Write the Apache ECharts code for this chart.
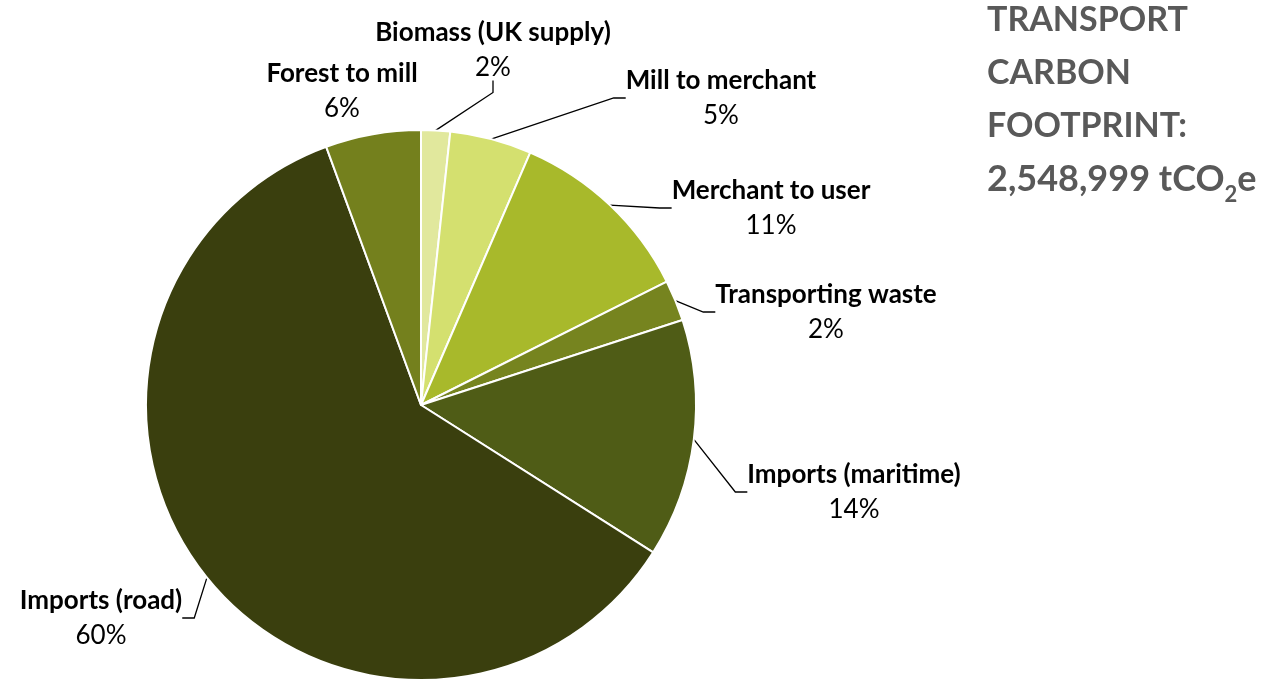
<!DOCTYPE html>
<html>
<head>
<meta charset="utf-8">
<script src="https://cdn.jsdelivr.net/npm/echarts@6/dist/echarts.min.js"></script>
<style>
  html, body { margin: 0; padding: 0; background: #fff; }
  #chart { width: 1283px; height: 680px; }
</style>
</head>
<body>
<div id="chart"></div>
<script>
// Transport emission sources, clockwise from 12 o'clock
const categories = [
  'Biomass (UK supply)',
  'Mill to merchant',
  'Merchant to user',
  'Transporting waste',
  'Imports (maritime)',
  'Imports (road)',
  'Forest to mill'
];
// Share of the transport footprint, percent
const shares = [1.7, 4.8, 11.1, 2.4, 14.0, 60.4, 5.6];
const sliceColors = ['#e1e89d', '#d4e06f', '#a8b92b', '#76841f', '#4f5c16', '#3a3f0e', '#74801d'];
// Label block centres (x, y) around the pie
const labelSpots = [
  [493, 50], [721, 98], [771, 208], [826, 312], [854, 492], [101, 618], [342, 91]
];
// Slices whose label sits close enough to need no leader line
const noLeader = ['Forest to mill'];
const totalText = '2,548,999';

const chart = echarts.init(document.getElementById('chart'), null, { renderer: 'canvas' });

const FONT = 'Lato, "Open Sans", sans-serif';

chart.setOption({
  animation: false,
  backgroundColor: '#ffffff',
  graphic: [{
    type: 'text',
    left: 987,
    top: 3,
    style: {
      text: '{t|TRANSPORT}\n{t|CARBON}\n{t|FOOTPRINT:}\n{u|' + totalText + ' tCO}{s|2}{u|e}',
      rich: {
        t: { fontFamily: FONT, fontWeight: 'bold', fontSize: 34, lineHeight: 53, fill: '#595959' },
        u: { fontFamily: FONT, fontWeight: 'bold', fontSize: 36, lineHeight: 53, fill: '#595959' },
        s: { fontFamily: FONT, fontWeight: 'bold', fontSize: 22, lineHeight: 53, fill: '#595959', verticalAlign: 'bottom' }
      }
    }
  }],
  series: [{
    type: 'pie',
    center: [421, 405],
    radius: 275,
    startAngle: 90,
    clockwise: true,
    percentPrecision: 0,
    avoidLabelOverlap: false,
    itemStyle: { borderColor: '#ffffff', borderWidth: 2 },
    label: {
      show: true,
      position: 'outside',
      formatter: '{n|{b}}\n{p|{d}%}',
      rich: {
        n: { fontFamily: FONT, fontWeight: 'bold', fontSize: 26, lineHeight: 35, color: '#000', align: 'center' },
        p: { fontFamily: FONT, fontSize: 26, lineHeight: 35, color: '#000', align: 'center' }
      }
    },
    labelLine: { show: true, length: 20, length2: 12, lineStyle: { color: '#000', width: 1.3 } },
    labelLayout: function (params) {
      const s = labelSpots[params.dataIndex];
      return { x: s[0], y: s[1], align: 'center', verticalAlign: 'middle' };
    },
    emphasis: { disabled: true },
    data: categories.map((name, i) => ({
      name: name,
      value: shares[i],
      itemStyle: { color: sliceColors[i] },
      labelLine: { show: noLeader.indexOf(name) < 0 }
    }))
  }]
});
</script>
</body>
</html>
